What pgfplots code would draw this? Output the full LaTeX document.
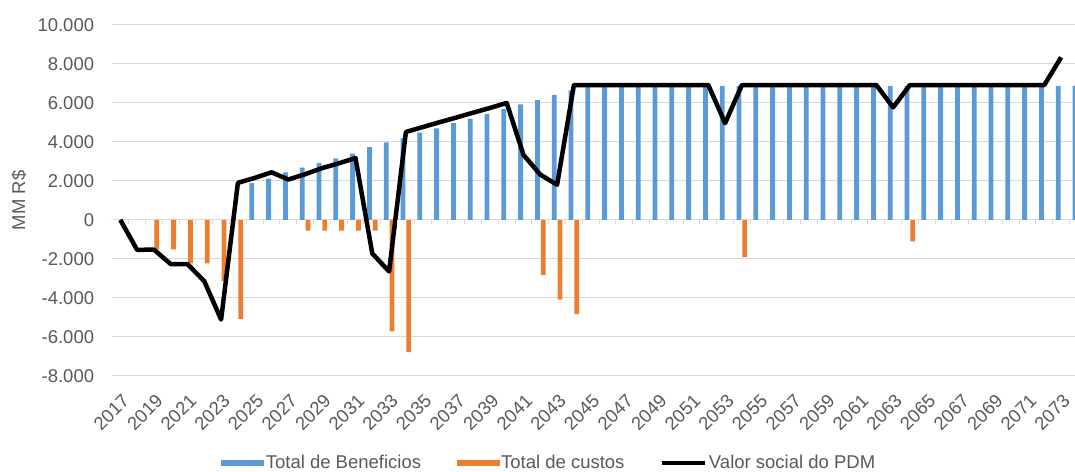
\documentclass[border=0pt]{standalone}
\usepackage{pgfplots}
\usepackage{pgfplotstable}
\pgfplotsset{compat=1.18}
\usepackage{fontspec}
\setmainfont{Liberation Sans}

\definecolor{benblue}{HTML}{5B9BD5}
\definecolor{custorange}{HTML}{ED7D31}
\definecolor{labelgray}{HTML}{595959}
\definecolor{gridgray}{HTML}{D9D9D9}

% Total de Beneficios (MM R$)
\pgfplotstableread{
ano valor
2025 1880
2026 2110
2027 2430
2028 2680
2029 2920
2030 3160
2031 3400
2032 3730
2033 3970
2034 4200
2035 4480
2036 4700
2037 4960
2038 5200
2039 5440
2040 5680
2041 5920
2042 6150
2043 6410
2044 6650
2045 6880
2046 6880
2047 6880
2048 6880
2049 6880
2050 6880
2051 6880
2052 6880
2053 6880
2054 6880
2055 6880
2056 6880
2057 6880
2058 6880
2059 6880
2060 6880
2061 6880
2062 6880
2063 6880
2064 6880
2065 6880
2066 6880
2067 6880
2068 6880
2069 6880
2070 6880
2071 6880
2072 6880
2073 6880
2074 6880
}\beneficios

% Total de custos
\pgfplotstableread{
ano valor
2019 -1530
2020 -1510
2021 -2230
2022 -2230
2023 -3130
2024 -5080
2028 -550
2029 -550
2030 -550
2031 -550
2032 -550
2033 -5730
2034 -6790
2042 -2820
2043 -4100
2044 -4840
2054 -1915
2064 -1110
}\custos

% Valor social do PDM
\pgfplotstableread{
ano valor
2017 0
2018 -1540
2019 -1530
2020 -2270
2021 -2270
2022 -3150
2023 -5120
2024 1900
2025 2150
2026 2440
2027 2070
2028 2340
2029 2650
2030 2900
2031 3170
2032 -1730
2033 -2650
2034 4510
2035 4760
2036 5010
2037 5250
2038 5500
2039 5740
2040 6000
2041 3330
2042 2320
2043 1800
2044 6920
2045 6920
2046 6920
2047 6920
2048 6920
2049 6920
2050 6920
2051 6920
2052 6920
2053 4960
2054 6920
2055 6920
2056 6920
2057 6920
2058 6920
2059 6920
2060 6920
2061 6920
2062 6920
2063 5770
2064 6920
2065 6920
2066 6920
2067 6920
2068 6920
2069 6920
2070 6920
2071 6920
2072 6920
2073 8340
}\valorsocial

\begin{document}
\begin{tikzpicture}
\begin{axis}[
    at={(111.9pt,95.3pt)}, anchor=south west,
    scale only axis,
    width=974.4pt, height=350.7pt,
    xmin=2016.5, xmax=2074.5,
    ymin=-8000, ymax=10000,
    ytick={-8000,-6000,...,10000},
    scaled y ticks=false,
    xtick={2017,2019,...,2073},
    major tick length=0pt,
    axis line style={draw=none},
    ymajorgrids, grid style={gridgray, line width=1pt},
    font=\fontsize{18.5}{22}\selectfont,
    tick label style={text=labelgray},
    /pgf/number format/assume math mode=true,
    yticklabel style={/pgf/number format/1000 sep={.}, anchor=east, inner sep=0pt, xshift=-17.6pt},
    xticklabel style={/pgf/number format/1000 sep={}, inner sep=0pt, xshift=5.7pt, yshift=-21.9pt, rotate=45, anchor=east},
    ylabel={MM R\$},
    every axis y label/.style={at={(axis description cs:-0.0953,0.5)}, rotate=90, anchor=center, text=labelgray},
    legend columns=-1,
    legend style={at={(axis description cs:0.4486,-0.2490)}, anchor=center, draw=none, fill=none,
        text=labelgray, font=\fontsize{18.5}{22}\selectfont,
        nodes={inner sep=1.5pt},
        /tikz/every even column/.append style={column sep=34pt}},
]
\addplot[ybar, bar width=4.8pt, bar shift=-2.9pt, fill=benblue, draw=none,
    legend image code/.code={\fill[benblue] (0pt,-3pt) rectangle (43pt,3pt);}]
    table[x=ano, y=valor] {\beneficios};
\addlegendentry{Total de Beneficios}
\addplot[ybar, bar width=4.8pt, bar shift=2.9pt, fill=custorange, draw=none,
    legend image code/.code={\fill[custorange] (0pt,-3pt) rectangle (43pt,3pt);}]
    table[x=ano, y=valor] {\custos};
\addlegendentry{Total de custos}
\addplot[black, line width=4.5pt, line join=round, no marks,
    legend image code/.code={\draw[black, line width=4.5pt] (0pt,0pt) -- (43pt,0pt);}]
    table[x=ano, y=valor] {\valorsocial};
\addlegendentry{Valor social do PDM}
\pgfplotsinvokeforeach{2016.5,2017.5,...,2074.5}{
    \draw[gridgray, line width=1pt] (axis cs:#1,0) -- ++(0pt,-4pt);
}
\end{axis}
\pgfresetboundingbox
\useasboundingbox (0pt,0pt) rectangle (1075pt,471pt);
\end{tikzpicture}
\end{document}
